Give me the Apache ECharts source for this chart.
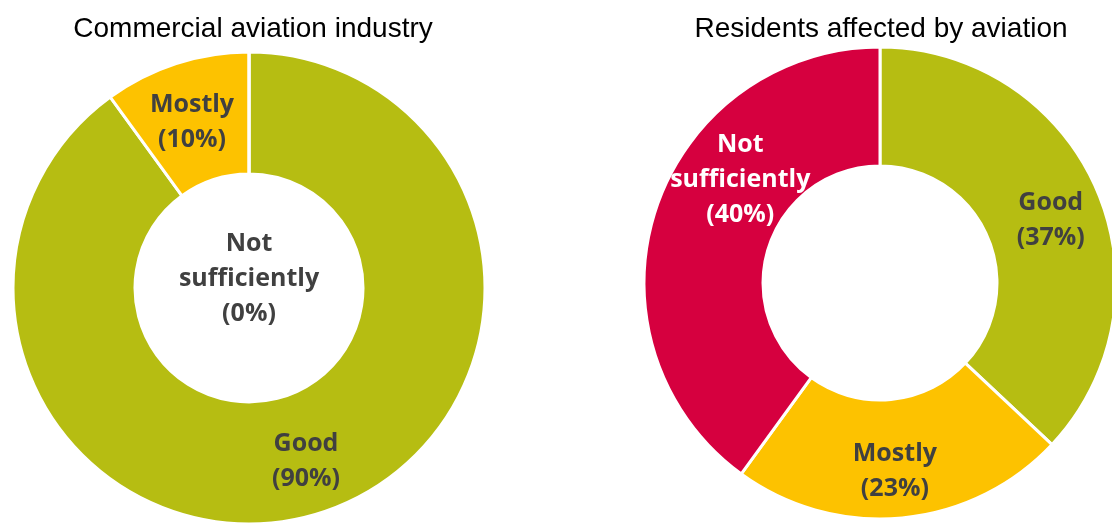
<!DOCTYPE html>
<html>
<head>
<meta charset="utf-8">
<script src="https://cdn.jsdelivr.net/npm/echarts@6/dist/echarts.min.js"></script>
<style>
  html, body { margin: 0; padding: 0; background: #ffffff; }
  #chart { width: 1112px; height: 525px; }
</style>
</head>
<body>
<div id="chart"></div>
<script>
// Assessment categories, in clockwise order from 12 o'clock
const categories = ['Good', 'Mostly', 'Not sufficiently'];

// Share of answers (%) per group
const industryValues = [90, 10, 0];
const residentsValues = [37, 23, 40];

const chartTitles = ['Commercial aviation industry', 'Residents affected by aviation'];

const sliceColors = ['#b6bd12', '#fdc200', '#d6003f'];
const labelFont = '"Open Sans", "DejaVu Sans", sans-serif';

function labelText(p) {
  return p.name.replace(' ', '\n') + '\n(' + p.value + '%)';
}

function buildData(values, labelTweaks) {
  return categories.map((name, i) => {
    const item = {
      name: name,
      value: values[i],
      itemStyle: { color: sliceColors[i] }
    };
    if (labelTweaks[i]) item.label = labelTweaks[i];
    return item;
  });
}

function donut(center, radius, values, labelTweaks) {
  return {
    type: 'pie',
    center: center,
    radius: radius,
    startAngle: 90,
    clockwise: true,
    avoidLabelOverlap: false,
    silent: true,
    itemStyle: { borderColor: '#ffffff', borderWidth: 3 },
    label: {
      show: true,
      position: 'inside',
      formatter: labelText,
      color: '#404040',
      fontFamily: labelFont,
      fontWeight: 'bold',
      fontSize: 25,
      lineHeight: 35,
      align: 'center'
    },
    labelLine: { show: false },
    data: buildData(values, labelTweaks)
  };
}

const chart = echarts.init(document.getElementById('chart'), null, { renderer: 'canvas' });

const titleStyle = { fontFamily: '"Liberation Sans", Arial, sans-serif', fontWeight: 'normal', fontSize: 28, color: '#000000' };

chart.setOption({
  backgroundColor: '#ffffff',
  animation: false,
  title: [
    { text: chartTitles[0], left: 248, top: 10, textAlign: 'center', textStyle: titleStyle },
    { text: chartTitles[1], left: 876, top: 10, textAlign: 'center', textStyle: titleStyle }
  ],
  series: [
    donut([249, 288], [114, 236], industryValues, [
      { offset: [2, 4] },
      { offset: [-2, 4] },
      { position: 'center', offset: [0, -9] }
    ]),
    donut([880, 283], [117, 236], residentsValues, [
      { offset: [6, 9] },
      { offset: [-2, 10] },
      { color: '#ffffff', offset: [31, -48] }
    ])
  ]
});
</script>
</body>
</html>
